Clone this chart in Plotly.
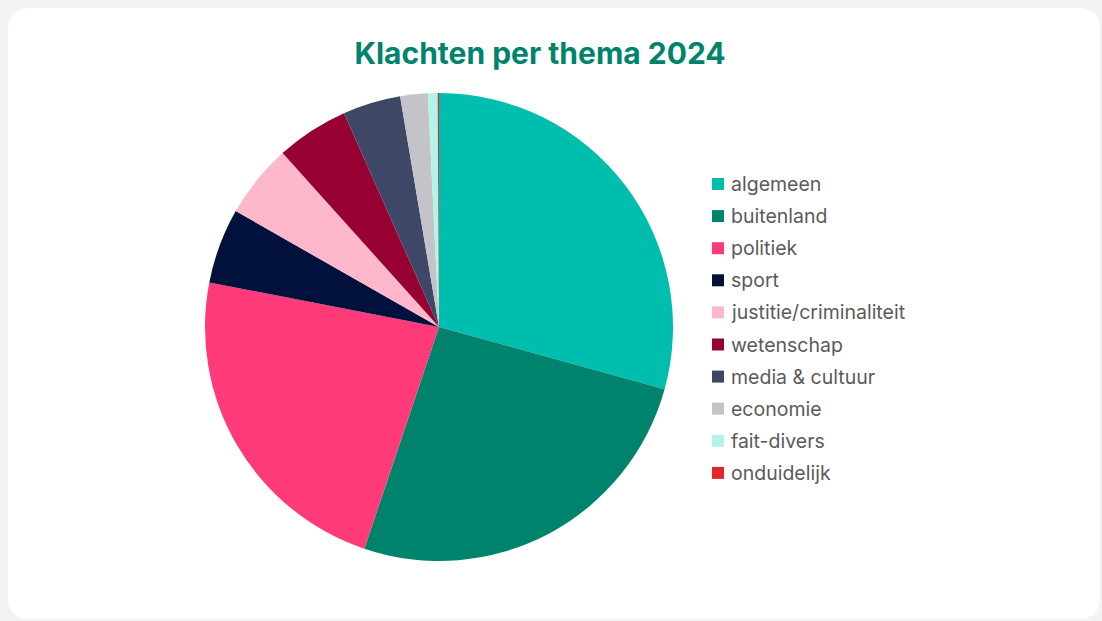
import plotly.graph_objects as go

labels = ["algemeen", "buitenland", "politiek", "sport", "justitie/criminaliteit",
          "wetenschap", "media & cultuur", "economie", "fait-divers", "onduidelijk"]
values = [29.3, 25.9, 22.9, 5.2, 5.1, 5.0, 4.0, 1.9, 0.67, 0.09]
colors = ["#00BEAD", "#00836C", "#FF3A78", "#02113B", "#FFB7CB",
          "#970032", "#3E4866", "#C4C3C8", "#B4F4E8", "#E3262A"]

W, H = 1102, 621
FONT = "Inter, Lato, sans-serif"

def px(x): return x / W
def py(y): return 1 - y / H

fig = go.Figure(go.Pie(
    labels=labels, values=values, sort=False, direction="clockwise", rotation=0,
    marker=dict(colors=colors, line=dict(width=0)),
    textinfo="none", hoverinfo="label+percent", showlegend=False,
    domain=dict(x=[px(205), px(673)], y=[py(561), py(93)]),
))

# rounded white card
x0, y0, x1, y1, r = 8, 8, 1100, 619, 22
path = (f"M {px(x0 + r)},{py(y0)} L {px(x1 - r)},{py(y0)} "
        f"Q {px(x1)},{py(y0)} {px(x1)},{py(y0 + r)} "
        f"L {px(x1)},{py(y1 - r)} Q {px(x1)},{py(y1)} {px(x1 - r)},{py(y1)} "
        f"L {px(x0 + r)},{py(y1)} Q {px(x0)},{py(y1)} {px(x0)},{py(y1 - r)} "
        f"L {px(x0)},{py(y0 + r)} Q {px(x0)},{py(y0)} {px(x0 + r)},{py(y0)} Z")
shapes = [dict(type="path", xref="paper", yref="paper", path=path,
               fillcolor="white", line=dict(width=0), layer="below")]

# custom legend
annotations = []
for i, (lab, col) in enumerate(zip(labels, colors)):
    yc = 184 + 32.1 * i
    shapes.append(dict(type="rect", xref="paper", yref="paper",
                       x0=px(712), x1=px(724), y0=py(yc + 6), y1=py(yc - 6),
                       fillcolor=col, line=dict(width=0)))
    annotations.append(dict(text=lab, xref="paper", yref="paper",
                            x=px(729), y=py(yc), xanchor="left", yanchor="middle",
                            showarrow=False,
                            font=dict(family=FONT, size=19.5, color="#5A5A5A")))

fig.update_layout(
    width=W, height=H,
    margin=dict(l=0, r=0, t=0, b=0),
    paper_bgcolor="#F3F3F3",
    shapes=shapes, annotations=annotations,
    title=dict(text="<b>Klachten per thema 2024</b>", x=540 / W, xanchor="center",
               y=py(53), yanchor="middle",
               font=dict(family=FONT, size=30, color="#00836C")),
    showlegend=False,
)

fig.write_html("out.html", config={"displayModeBar": False},
               post_script="document.body.style.margin='0';")
